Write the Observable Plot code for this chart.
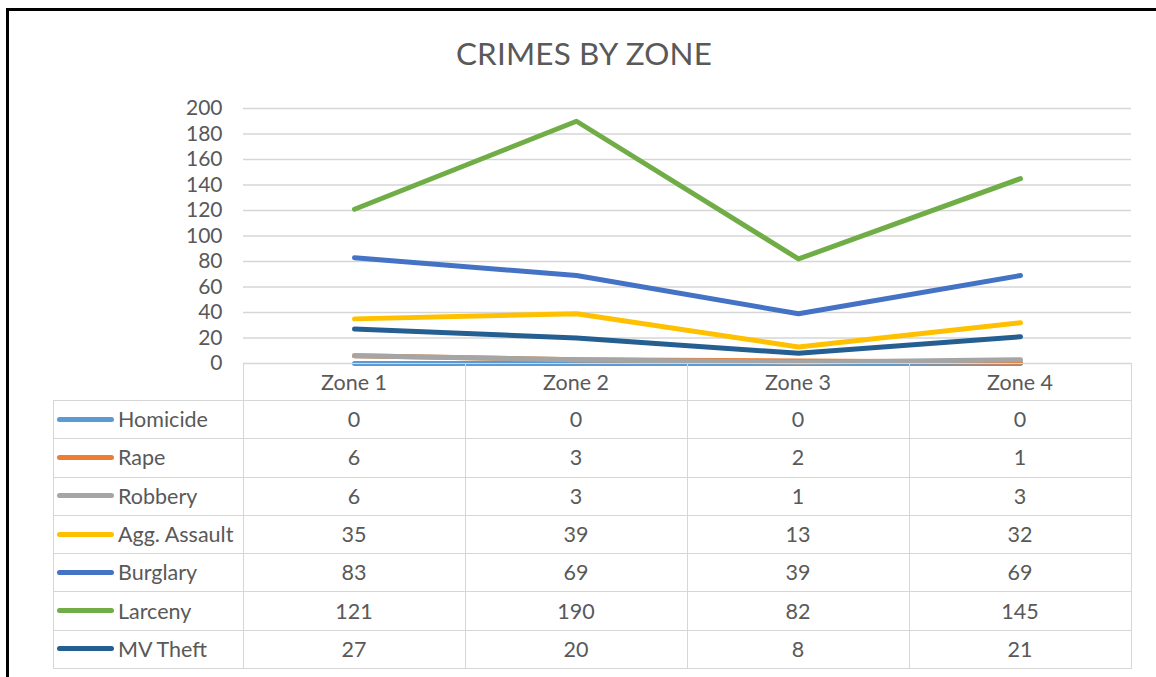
<!DOCTYPE html>
<html>
<head>
<meta charset="utf-8">
<script src="https://cdn.jsdelivr.net/npm/d3@7"></script>
<script src="https://cdn.jsdelivr.net/npm/@observablehq/plot@0.6"></script>
<style>
  html, body { margin: 0; padding: 0; background: #fff; }
  body { width: 1156px; height: 677px; position: relative; overflow: hidden; font-family: Lato, "Open Sans", sans-serif; color: #595959; }
  #frame { position: absolute; left: 6px; top: 8px; width: 1300px; height: 800px; border-left: 3px solid #000; border-top: 3px solid #000; }
  #title { position: absolute; left: 0; width: 1168px; top: 34px; text-align: center; font-size: 31.4px; color: #595959; letter-spacing: 0.2px; }
  #chart { position: absolute; left: 0; top: 0; }
  .hl, .vl { position: absolute; background: #d6d6d6; }
  .cell { position: absolute; font-size: 21.5px; color: #595959; display: flex; align-items: center; justify-content: center; }
  .lab { position: absolute; font-size: 21.5px; color: #595959; display: flex; align-items: center; }
  .key { position: absolute; height: 5px; border-radius: 3px; }
</style>
</head>
<body>
<div id="frame"></div>
<div id="title">CRIMES BY ZONE</div>
<div id="chart"></div>
<div id="table"></div>
<script>
// ---- data ----
const zones = ["Zone 1", "Zone 2", "Zone 3", "Zone 4"];
const seriesNames = ["Homicide", "Rape", "Robbery", "Agg. Assault", "Burglary", "Larceny", "MV Theft"];
const seriesColors = ["#5B9BD5", "#ED7D31", "#A5A5A5", "#FFC000", "#4472C4", "#70AD47", "#255E91"];
const homicide = [0, 0, 0, 0];
const rape = [6, 3, 2, 1];
const robbery = [6, 3, 1, 3];
const aggAssault = [35, 39, 13, 32];
const burglary = [83, 69, 39, 69];
const larceny = [121, 190, 82, 145];
const mvTheft = [27, 20, 8, 21];
const yTicks = [0, 20, 40, 60, 80, 100, 120, 140, 160, 180, 200];

const seriesValues = [homicide, rape, robbery, aggAssault, burglary, larceny, mvTheft];
const rows = [];
seriesNames.forEach((s, i) => zones.forEach((z, j) => rows.push({series: s, zone: z, value: seriesValues[i][j]})));

// ---- chart ----
const W = 1156, H = 400;
const mL = 243, mR = 25, mT = 108, mB = 37;
const plot = Plot.plot({
  width: W, height: H,
  marginLeft: mL, marginRight: mR, marginTop: mT, marginBottom: mB,
  style: { fontFamily: "Lato, 'Open Sans', sans-serif", fontSize: "21px", color: "#595959", background: "transparent", overflow: "visible" },
  x: { type: "point", domain: zones, padding: 0.5, axis: null },
  y: { domain: [0, 200], ticks: yTicks, tickSize: 0, tickPadding: 21, label: null, grid: false },
  color: { domain: seriesNames, range: seriesColors },
  marks: [
    Plot.ruleY(yTicks, { stroke: "#d6d6d6", strokeWidth: 1.3 }),
    Plot.axisY({ ticks: yTicks, tickSize: 0, tickPadding: 21, label: null, fill: "#595959", fontSize: 21 }),
    Plot.line(rows, { x: "zone", y: "value", z: "series", stroke: "series", strokeWidth: 5, strokeLinecap: "round", strokeLinejoin: "round" })
  ]
});
document.getElementById("chart").appendChild(plot);

// ---- data table ----
const tbl = document.getElementById("table");
const xScale = plot.scale("x");
const tLeft = 53, tTop = 363, hdrBottom = 400, tBottom = 668, tRight = W - mR;
const rowH = (tBottom - hdrBottom) / seriesNames.length;
const colStep = (tRight - mL) / zones.length;
function add(cls, css, text) {
  const d = document.createElement("div");
  d.className = cls;
  Object.assign(d.style, css);
  if (text !== undefined) d.textContent = text;
  tbl.appendChild(d);
  return d;
}
// horizontal lines
add("hl", { left: mL + "px", top: tTop + "px", width: (tRight - mL + 1) + "px", height: "1px" });
for (let i = 0; i <= seriesNames.length; i++) {
  const y = Math.round(hdrBottom + i * rowH);
  add("hl", { left: tLeft + "px", top: y + "px", width: (tRight - tLeft + 1) + "px", height: "1px" });
}
// vertical lines
add("vl", { left: tLeft + "px", top: hdrBottom + "px", width: "1px", height: (tBottom - hdrBottom + 1) + "px" });
for (let j = 0; j <= zones.length; j++) {
  const x = Math.round(mL + j * colStep);
  add("vl", { left: x + "px", top: tTop + "px", width: "1px", height: (tBottom - tTop + 1) + "px" });
}
// header
zones.forEach((z, j) => {
  const cx = xScale.apply(z);
  add("cell", { left: (cx - colStep / 2) + "px", top: tTop + "px", width: colStep + "px", height: (hdrBottom - tTop) + "px" }, z);
});
// rows
seriesNames.forEach((s, i) => {
  const top = hdrBottom + i * rowH;
  add("key", { left: "57px", top: (top + rowH / 2 - 2.5) + "px", width: "57px", background: seriesColors[i] });
  add("lab", { left: "118px", top: top + "px", height: rowH + "px" }, s);
  zones.forEach((z, j) => {
    const cx = xScale.apply(z);
    add("cell", { left: (cx - colStep / 2) + "px", top: top + "px", width: colStep + "px", height: rowH + "px" }, String(seriesValues[i][j]));
  });
});
</script>
</body>
</html>
